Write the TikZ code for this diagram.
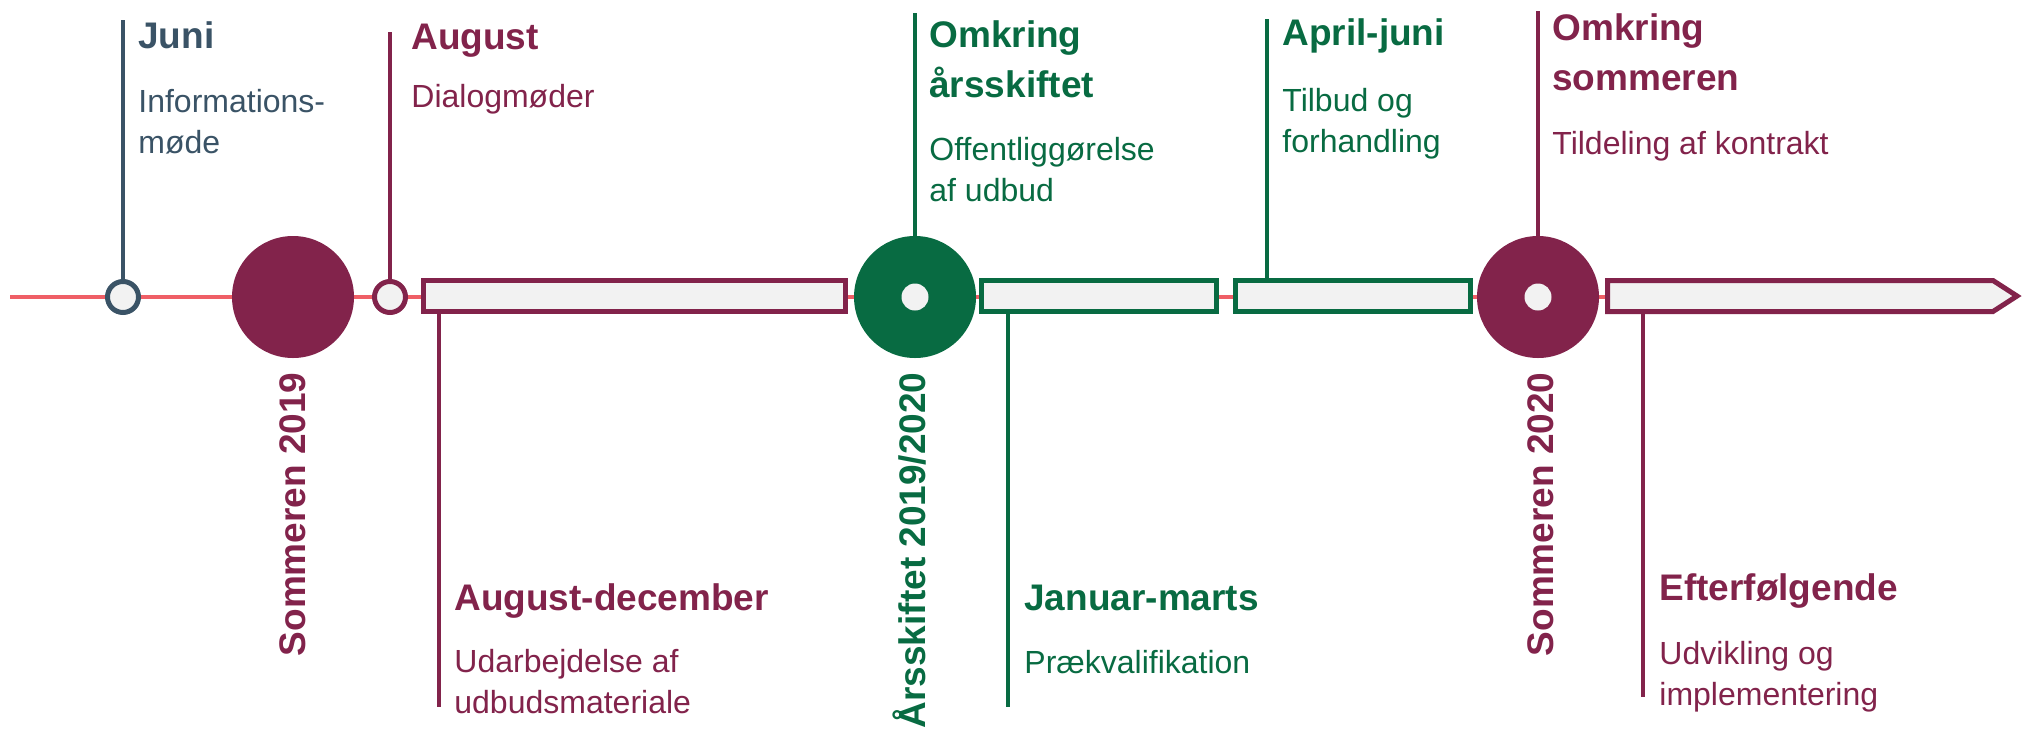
\documentclass[tikz,border=0pt]{standalone}
\usepackage{fontspec}
\setmainfont{Liberation Sans}
\usepackage{tikz}

\definecolor{slate}{HTML}{3A5366}
\definecolor{plum}{HTML}{82234B}
\definecolor{forest}{HTML}{086B42}
\definecolor{coral}{HTML}{EF5F66}
\definecolor{barfill}{HTML}{F2F2F2}

\begin{document}
\begin{tikzpicture}[x=0.5pt, y=-0.5pt,
    dot/.style={circle, draw, line width=2.5pt, fill=barfill, minimum size=15.5pt, inner sep=0pt},
    bigdot/.style={circle, minimum size=61pt, inner sep=0pt},
    hole/.style={circle, fill=barfill, minimum size=13.5pt, inner sep=0pt},
    bar/.style={rectangle, draw, line width=2.5pt, fill=barfill, minimum height=15.5pt, inner sep=0pt},
    stem/.style={line width=2pt},
    head/.style={anchor=base west, inner sep=0pt, align=left, font=\fontsize{18.5}{25}\selectfont\bfseries},
    body/.style={anchor=base west, inner sep=0pt, align=left, font=\fontsize{16}{20.5}\selectfont},
    year/.style={rotate=90, anchor=base east, inner sep=0pt, font=\fontsize{18.5}{22}\selectfont\bfseries}]
    \useasboundingbox (0,0) rectangle (2023,729);

    % ends of the axis and of the stems
    \coordinate (axisStart) at (10,297);
    \coordinate (arrowTail) at (1607.5,297);
    \coordinate (juniTop) at (123,20);
    \coordinate (augTop) at (390,32);
    \coordinate (omkAarTop) at (915,13);
    \coordinate (aprTop) at (1267,19);
    \coordinate (omkSomTop) at (1538,11);
    \coordinate (augDecEnd) at (439,707);
    \coordinate (janEnd) at (1008,707);
    \coordinate (efterEnd) at (1643,697);

    \draw[coral, line width=2pt] (axisStart) -- (arrowTail);

    % markers on the axis
    \node[dot, draw=slate] (juniDot) at (123,297) {};
    \node[bigdot, fill=plum] (som19) at (293,297) {};
    \node[dot, draw=plum] (augDot) at (390,297) {};
    \node[bar, draw=plum, minimum width=211pt] (augDecBar) at (634.5,296) {};
    \node[bigdot, fill=forest] (aarDot) at (915,297) {};
    \node[hole] (aarHole) at (aarDot) {};
    \node[bar, draw=forest, minimum width=117.5pt] (janBar) at (1099,296) {};
    \node[bar, draw=forest, minimum width=117.5pt] (aprBar) at (1353,296) {};
    \node[bigdot, fill=plum] (som20) at (1538,297) {};
    \node[hole] (som20Hole) at (som20) {};
    \draw[plum, line width=2.5pt, fill=barfill] (arrowTail |- 0,280.5) -- (1993,280.5) -- (2017,296)
        -- (1993,311.5) -- (arrowTail |- 0,311.5) -- cycle;
    \coordinate (efterBar) at (1643,311.5);

    % stems
    \draw[stem, slate] (juniTop) -- (juniDot);
    \draw[stem, plum] (augTop) -- (augDot);
    \draw[stem, forest] (omkAarTop) -- (aarDot);
    \draw[stem, forest] (aprTop) -- (aprTop |- aprBar.north);
    \draw[stem, plum] (omkSomTop) -- (som20);
    \draw[stem, plum] (augDecEnd |- augDecBar.south) -- (augDecEnd);
    \draw[stem, forest] (janEnd |- janBar.south) -- (janEnd);
    \draw[stem, plum] (efterBar) -- (efterEnd);

    % texts above (multi-line nodes sit on their last baseline)
    \node[head, slate] (juniHead) at (138,48) {Juni};
    \node[body, slate] (juniBody) at (138,153) {Informations-\\møde};
    \node[head, plum] (augHead) at (411,49) {August};
    \node[body, plum] (augBody) at (411,107) {Dialogmøder};
    \node[head, forest] (omkAarHead) at (929,97) {Omkring\\årsskiftet};
    \node[body, forest] (omkAarBody) at (929,201) {Offentliggørelse\\af udbud};
    \node[head, forest] (aprHead) at (1282,45) {April-juni};
    \node[body, forest] (aprBody) at (1282,152) {Tilbud og\\forhandling};
    \node[head, plum] (omkSomHead) at (1552,90) {Omkring\\sommeren};
    \node[body, plum] (omkSomBody) at (1552,154) {Tildeling af kontrakt};

    % texts below
    \node[head, plum] (augDecHead) at (454,610) {August-december};
    \node[body, plum] (augDecBody) at (454,713) {Udarbejdelse af\\udbudsmateriale};
    \node[head, forest] (janHead) at (1024,610) {Januar-marts};
    \node[body, forest] (janBody) at (1024,673) {Prækvalifikation};
    \node[head, plum] (efterHead) at (1659,600) {Efterfølgende};
    \node[body, plum] (efterBody) at (1659,705) {Udvikling og\\implementering};

    % years along the axis
    \node[year, plum] (som19Label) at (305,372) {Sommeren 2019};
    \node[year, forest] (aarLabel) at (925,372) {Årsskiftet 2019/2020};
    \node[year, plum] (som20Label) at (1553,372) {Sommeren 2020};
\end{tikzpicture}
\end{document}
